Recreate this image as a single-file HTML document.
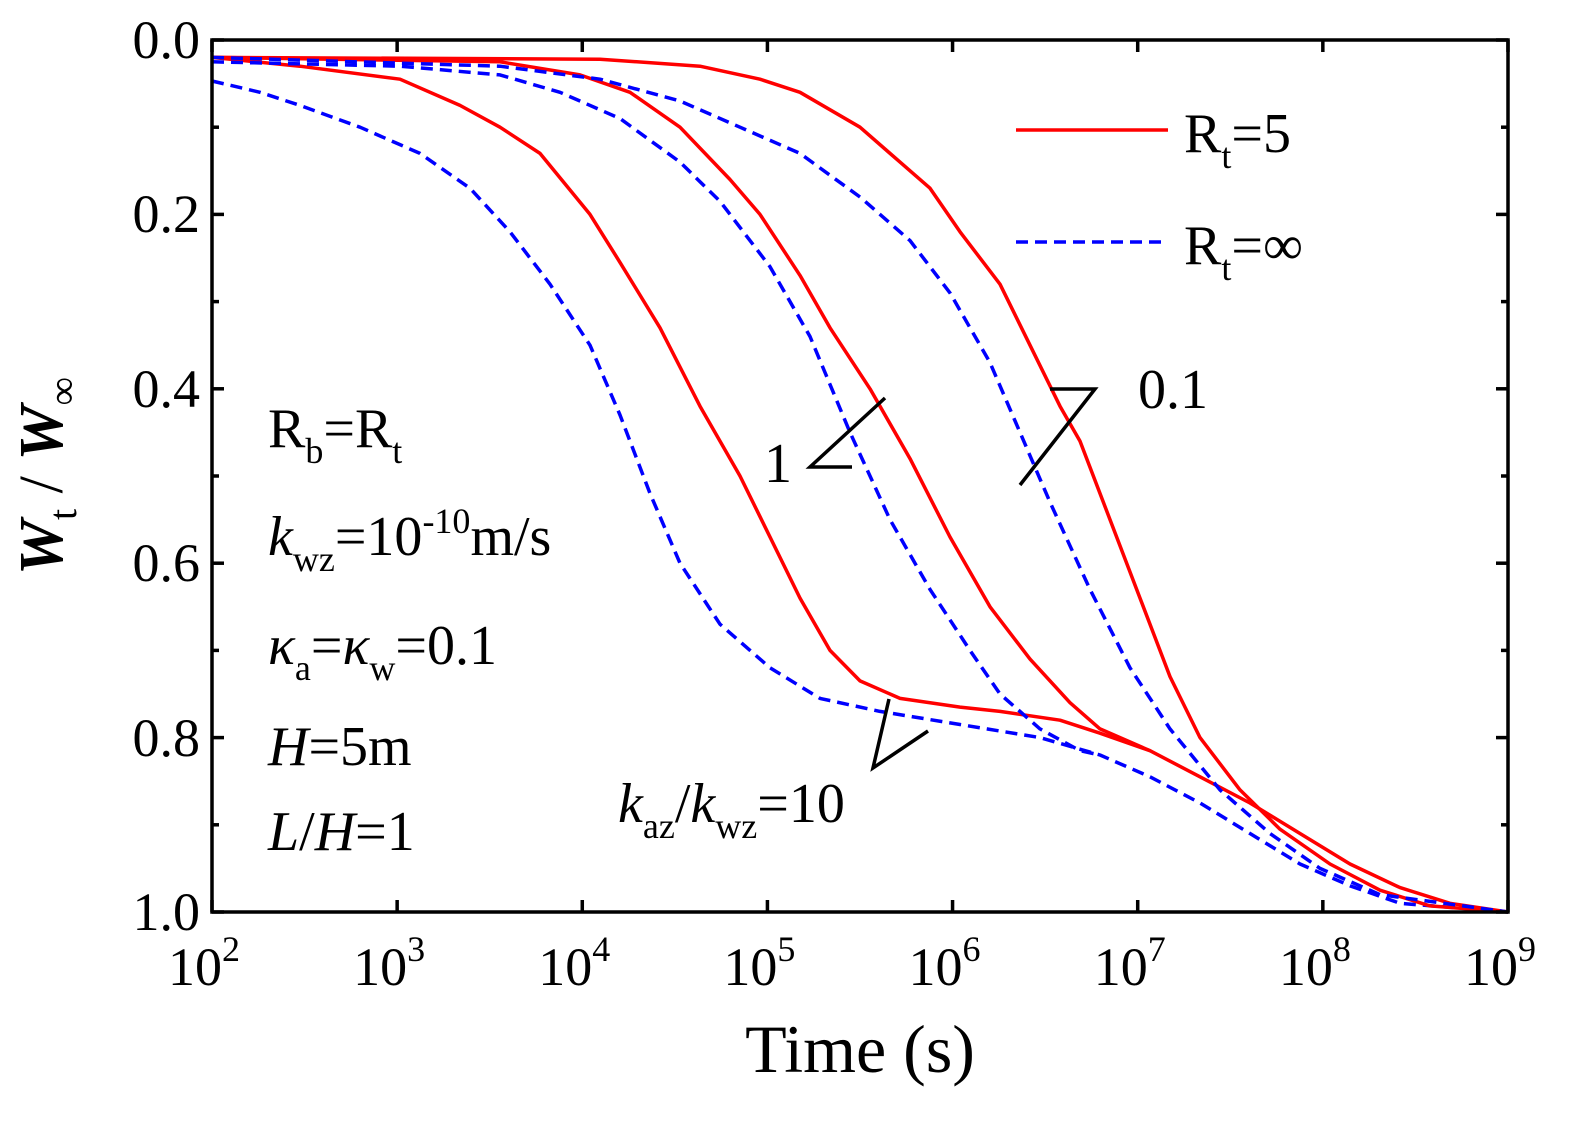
<!DOCTYPE html>
<html><head><meta charset="utf-8"><style>
body{margin:0;background:#fff}
svg{display:block}
text{font-family:"Liberation Serif",serif;fill:#000}
</style></head><body>
<svg width="1592" height="1128" viewBox="0 0 1592 1128" xmlns="http://www.w3.org/2000/svg">
<g id="curves" fill="none" stroke-width="3.5" stroke-linejoin="round"></g>
<rect x="212" y="40" width="1296" height="872" fill="none" stroke="#000" stroke-width="3.5"/>
<g id="ticks" stroke="#000" stroke-width="3.5"></g>
<g font-size="54" text-anchor="end">
<text x="200" y="58">0.0</text><text x="200" y="232">0.2</text><text x="200" y="407">0.4</text>
<text x="200" y="581">0.6</text><text x="200" y="756">0.8</text><text x="200" y="930">1.0</text>
</g>
<g font-size="54" text-anchor="middle" id="xl"></g>
<text x="860" y="1072" font-size="68" text-anchor="middle">Time (s)</text>
<g transform="translate(62,476) rotate(-90)" font-size="62" text-anchor="middle">
<text x="0" y="0"><tspan font-style="italic" font-weight="bold">W</tspan><tspan font-size="40" dy="14">t</tspan><tspan dy="-14"> / </tspan><tspan font-style="italic" font-weight="bold">W</tspan><tspan font-size="40" dy="14">∞</tspan></text>
</g>
<g font-size="56">
<text x="268" y="447">R<tspan font-size="36" dy="16">b</tspan><tspan dy="-16">=R</tspan><tspan font-size="36" dy="16">t</tspan></text>
<text x="268" y="555"><tspan font-style="italic">k</tspan><tspan font-size="36" dy="16">wz</tspan><tspan dy="-16">=10</tspan><tspan font-size="36" dy="-22">-10</tspan><tspan dy="22">m/s</tspan></text>
<text x="268" y="664"><tspan font-style="italic">κ</tspan><tspan font-size="36" dy="16">a</tspan><tspan dy="-16">=</tspan><tspan font-style="italic">κ</tspan><tspan font-size="36" dy="16">w</tspan><tspan dy="-16">=0.1</tspan></text>
<text x="268" y="765"><tspan font-style="italic">H</tspan>=5m</text>
<text x="268" y="850"><tspan font-style="italic">L</tspan>/<tspan font-style="italic">H</tspan>=1</text>
<text x="618" y="822"><tspan font-style="italic">k</tspan><tspan font-size="36" dy="16">az</tspan><tspan dy="-16">/</tspan><tspan font-style="italic">k</tspan><tspan font-size="36" dy="16">wz</tspan><tspan dy="-16">=10</tspan></text>
<text x="764" y="482">1</text>
<text x="1138" y="408">0.1</text>
<text x="1184" y="152">R<tspan font-size="36" dy="16">t</tspan><tspan dy="-16">=5</tspan></text>
<text x="1184" y="264">R<tspan font-size="36" dy="16">t</tspan><tspan dy="-16">=∞</tspan></text>
</g>
<g stroke="#000" stroke-width="3.5" fill="none">
<polyline points="885,398 810,467 852,467"/>
<polyline points="1050,389 1095,389 1020,485"/>
<polyline points="889,699 873,768 928,731"/>
</g>
<line x1="1016" y1="130" x2="1168" y2="130" stroke="#f00" stroke-width="3.5"/>
<line x1="1016" y1="242" x2="1168" y2="242" stroke="#00f" stroke-width="3.5" stroke-dasharray="12,7"/>
</svg>
<script>
const Y=v=>40+872*v;
const series=[
["#f00","",[[212,.02],[300,.03],[400,.045],[460,.075],[500,.1],[540,.13],[590,.2],[620,.255],[660,.33],[700,.42],[740,.5],[770,.57],[800,.64],[830,.70],[860,.735],[900,.755],[960,.765],[1000,.77],[1060,.78],[1100,.795],[1150,.815],[1200,.845],[1250,.875],[1300,.91],[1350,.945],[1400,.972],[1450,.99],[1508,1]]],
["#00f","12,7",[[212,.047],[260,.06],[300,.075],[360,.1],[420,.13],[470,.17],[510,.22],[550,.28],[590,.35],[620,.43],[650,.52],[680,.6],[720,.67],[770,.72],[820,.755],[880,.77],[960,.785],[1040,.8],[1100,.82],[1150,.845],[1200,.875],[1250,.91],[1300,.945],[1350,.97],[1400,.99],[1508,1]]],
["#f00","",[[212,.02],[500,.025],[580,.04],[630,.06],[680,.1],[730,.16],[760,.2],[800,.27],[830,.33],[870,.4],[910,.48],[950,.57],[990,.65],[1030,.71],[1070,.76],[1100,.79],[1150,.815]]],
["#00f","12,7",[[212,.025],[400,.03],[500,.04],[560,.06],[620,.09],[680,.14],[720,.185],[770,.26],[810,.34],[850,.45],[890,.55],[930,.63],[970,.7],[1000,.75],[1040,.79],[1080,.815],[1100,.82]]],
["#f00","",[[212,.02],[600,.022],[700,.03],[760,.045],[800,.06],[860,.1],[900,.14],[930,.17],[960,.22],[1000,.28],[1030,.35],[1060,.42],[1080,.46],[1110,.55],[1140,.64],[1170,.73],[1200,.8],[1240,.86],[1280,.905],[1330,.945],[1380,.975],[1430,.993],[1508,1]]],
["#00f","12,7",[[212,.02],[500,.03],[600,.045],[680,.07],[740,.1],[800,.13],[860,.18],[910,.23],[950,.29],[990,.37],[1020,.45],[1050,.53],[1090,.63],[1130,.72],[1170,.79],[1220,.86],[1270,.91],[1320,.95],[1380,.98],[1508,1]]]
];
const ns="http://www.w3.org/2000/svg";
const g=document.getElementById("curves");
for(const [c,d,p] of series){const e=document.createElementNS(ns,"polyline");e.setAttribute("points",p.map(q=>q[0]+","+Y(q[1]).toFixed(1)).join(" "));e.setAttribute("stroke",c);if(d)e.setAttribute("stroke-dasharray",d);g.appendChild(e);}
const t=document.getElementById("ticks");let s="";
for(let i=0;i<=7;i++){const x=212+i*185.14;s+=`<line x1="${x}" y1="912" x2="${x}" y2="900"/><line x1="${x}" y1="40" x2="${x}" y2="52"/>`;}
for(let i=0;i<=10;i++){const y=40+i*87.2,l=i%2?7:12;s+=`<line x1="212" y1="${y}" x2="${212+l}" y2="${y}"/><line x1="1508" y1="${y}" x2="${1508-l}" y2="${y}"/>`;}
t.innerHTML=s;
const xl=document.getElementById("xl");let h="";
for(let i=0;i<=7;i++){const x=212+i*185.14;h+=`<text x="${x-8}" y="985">10<tspan font-size="36" dy="-24">${i+2}</tspan></text>`;}
xl.innerHTML=h;
</script>
</body></html>
